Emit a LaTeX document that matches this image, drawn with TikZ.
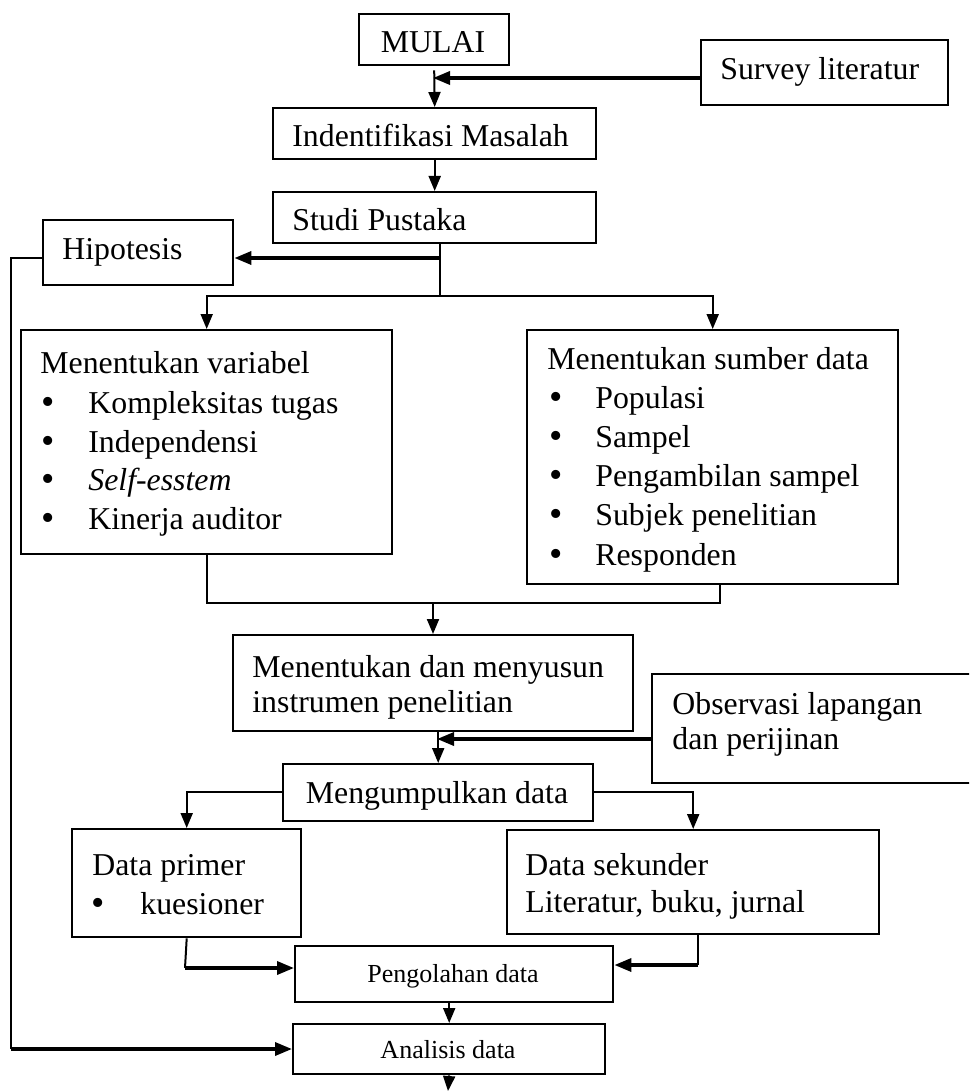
\documentclass[tikz,border=0pt]{standalone}
\usepackage{fontspec}
\setmainfont{Liberation Serif}
\usetikzlibrary{arrows.meta}
\begin{document}
\begin{tikzpicture}[x=0.5pt,y=-0.5pt,
  box/.style={draw,line width=1.2pt,inner sep=0pt,anchor=north west},
  txt/.style={inner sep=0pt,anchor=base west,font=\fontsize{15.9}{19.5}\selectfont},
  ctxt/.style={inner sep=0pt,anchor=base,font=\fontsize{15.9}{19.5}\selectfont},
  stxt/.style={inner sep=0pt,anchor=base,font=\fontsize{13}{16}\selectfont},
  bul/.style={inner sep=0pt,anchor=center,font=\fontsize{19}{19}\selectfont},
  ln/.style={line width=1pt},
  arr/.style={line width=1pt,-{Triangle[length=7.5pt,width=6pt]}},
  arrthick/.style={line width=1.7pt,-{Triangle[length=8.5pt,width=6.5pt]}}]
\clip (0,0) rectangle (969,1091);
\fill[white] (0,0) rectangle (969,1091);
\newcommand\rbox[5]{\node[box,minimum width={(#4-#2)*0.5pt},minimum height={(#5-#3)*0.5pt}] (#1) at (#2,#3) {};}
% boxes
\rbox{mulai}{358}{13}{508}{64}
\rbox{survey}{700}{39}{947}{104}
\rbox{ident}{272}{107}{595}{158}
\rbox{studi}{272}{191}{595}{242}
\rbox{hipo}{42}{219}{232}{284}
\rbox{var}{20}{329}{391}{553}
\rbox{sumber}{526}{329}{897}{583}
\rbox{instr}{232}{634}{632}{730}
\rbox{obs}{651}{673}{985}{782}
\rbox{kumpul}{282}{763}{592}{820}
\rbox{prim}{71}{828}{300}{936}
\rbox{sek}{506}{829}{878}{933}
\rbox{olah}{294}{945}{612}{1001}
\rbox{anal}{292}{1023}{604}{1073}
% texts
\node[ctxt] (tmulai) at (433,53) {MULAI};
\node[txt] (tsurvey) at (720,80) {Survey literatur};
\node[txt] (tident) at (292,147) {Indentifikasi Masalah};
\node[txt] (tstudi) at (292,231) {Studi Pustaka};
\node[txt] (thipo) at (62,259) {Hipotesis};
\node[txt] (tvar) at (40,373) {Menentukan variabel};
\node[bul] (bv1) at (48,406) {•};
\node[txt] (tv1) at (88,413) {Kompleksitas tugas};
\node[bul] (bv2) at (48,445) {•};
\node[txt] (tv2) at (88,452) {Independensi};
\node[bul] (bv3) at (48,483) {•};
\node[txt] (tv3) at (88,490) {\itshape Self-esstem};
\node[bul] (bv4) at (48,522) {•};
\node[txt] (tv4) at (88,529) {Kinerja auditor};
\node[txt] (tsum) at (547,369) {Menentukan sumber data};
\node[bul] (bs1) at (556,401) {•};
\node[txt] (ts1) at (595,408) {Populasi};
\node[bul] (bs2) at (556,440) {•};
\node[txt] (ts2) at (595,447) {Sampel};
\node[bul] (bs3) at (556,479) {•};
\node[txt] (ts3) at (595,486) {Pengambilan sampel};
\node[bul] (bs4) at (556,518) {•};
\node[txt] (ts4) at (595,525) {Subjek penelitian};
\node[bul] (bs5) at (556,558) {•};
\node[txt] (ts5) at (595,565) {Responden};
\node[txt] (tin1) at (252,677) {Menentukan dan menyusun};
\node[txt] (tin2) at (252,712) {instrumen penelitian};
\node[txt] (tob1) at (672,714) {Observasi lapangan};
\node[txt] (tob2) at (672,749) {dan perijinan};
\node[ctxt] (tkum) at (437,803) {Mengumpulkan data};
\node[txt] (tpr1) at (92,875) {Data primer};
\node[bul] (bpr) at (98,907) {•};
\node[txt] (tpr2) at (140,914) {kuesioner};
\node[txt] (tse1) at (525,875) {Data sekunder};
\node[txt] (tse2) at (525,912) {Literatur, buku, jurnal};
\node[stxt] (tolah) at (453,982) {Pengolahan data};
\node[stxt] (tanal) at (448,1058) {Analisis data};
% connectors
\draw[arr] ([yshift=-2pt]mulai.south) -- (ident.north);
\coordinate (j1) at (433,78);
\draw[arrthick] (survey.west |- j1) -- (j1);
\draw[arr] (ident.south) -- (studi.north);
\coordinate (b1) at (440,296);
\coordinate (h1) at (440,258);
\draw[ln] (studi.south -| b1) -- (b1);
\draw[arrthick] (h1) -- (hipo.east |- h1);
\draw[arr] (b1) -| (var.north);
\draw[arr] (b1) -| (sumber.north);
\coordinate (m1) at (433,603);
\coordinate (m2) at (720,603);
\draw[ln] (var.south) |- (m1);
\draw[ln] (sumber.south -| m2) -- (m2) -- (m1);
\draw[arr] (m1) -- (instr.north -| m1);
\draw[arr] (instr.south -| kumpul.north) -- (kumpul.north);
\coordinate (o1) at (437,739);
\draw[arrthick] (obs.west |- o1) -- (o1);
\coordinate (k1) at (0,792);
\draw[arr] (kumpul.west |- k1) -| (prim.north);
\draw[arr] (kumpul.east |- k1) -| (sek.north);
\coordinate (p1) at (185,968);
\coordinate (p2) at (698,965);
\draw[ln] (prim.south) -- (p1);
\draw[arrthick] (p1) -- (olah.west |- p1);
\draw[ln] (sek.south -| p2) -- (p2);
\draw[arrthick] (p2) -- (olah.east |- p2);
\draw[arr] (olah.south -| anal.north) -- (anal.north);
\coordinate (e1) at (448,1091);
\draw[arr] (anal.south) -- (e1);
\coordinate (l1) at (11,258);
\coordinate (l2) at (11,1049);
\draw[ln] (hipo.west |- l1) -- (l1) -- (l2);
\draw[arrthick] (l2) -- (anal.west |- l2);
\end{tikzpicture}
\end{document}
